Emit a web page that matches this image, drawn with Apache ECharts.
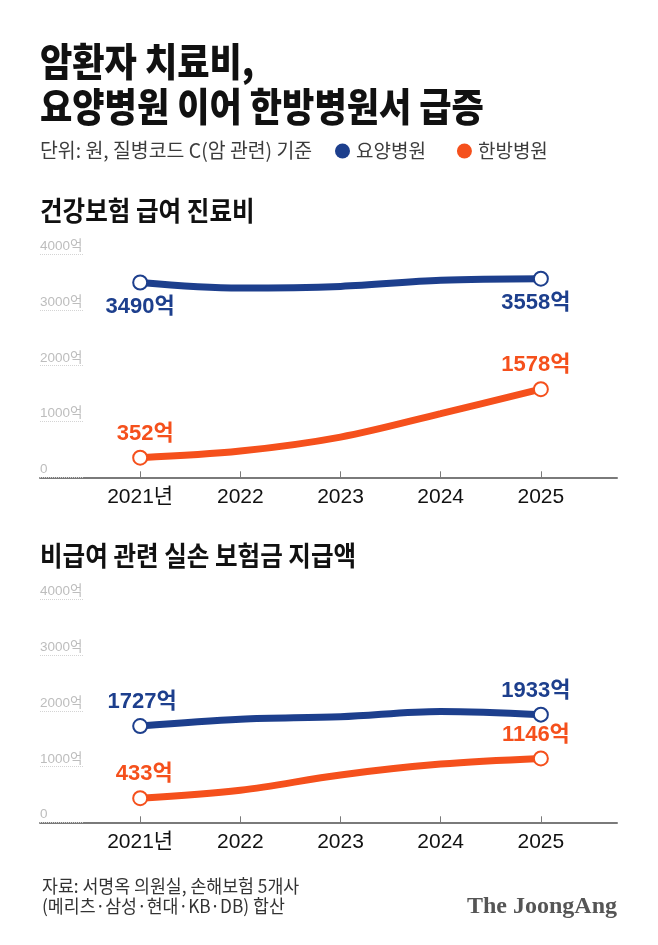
<!DOCTYPE html>
<html>
<head>
<meta charset="utf-8">
<script src="https://cdn.jsdelivr.net/npm/echarts@6/dist/echarts.min.js"></script>
<style>
  html, body { margin: 0; padding: 0; background: #fff; }
  #chart { width: 658px; height: 945px; }
</style>
</head>
<body>
<div id="chart"></div>
<script>
// data
var years = [2021, 2022, 2023, 2024, 2025];
var yearLabels = ["2021년", "2022", "2023", "2024", "2025"];
var seriesNames = ["요양병원", "한방병원"];
// 건강보험 급여 진료비 (억 원)
var insuredNursing = [3490, 3390, 3420, 3530, 3558];
var insuredKorean = [352, 470, 720, 1140, 1578];
// 비급여 관련 실손 보험금 지급액 (억 원)
var privateNursing = [1727, 1850, 1895, 1990, 1933];
var privateKorean = [433, 575, 850, 1045, 1146];

var BLUE = "#1d3f8d";
var ORANGE = "#f5501c";
var NUM = "'Liberation Sans', 'Noto Sans CJK KR', sans-serif";
var KR = "'Noto Sans CJK KR', sans-serif";

var myChart = echarts.init(document.getElementById("chart"));

// only the first and last points get a marker and a label
function makeData(values, labelPos, firstDx) {
  return values.map(function (v, i) {
    if (i === 0 || i === values.length - 1) {
      return {
        value: [years[i], v],
        label: { show: true, position: labelPos, offset: [i === 0 ? firstDx : -5, 0] }
      };
    }
    return { value: [years[i], v], symbol: "none" };
  });
}

function makeSeries(name, color, values, gridIdx, labelPos, firstDx) {
  return {
    name: name,
    type: "line",
    xAxisIndex: gridIdx,
    yAxisIndex: gridIdx,
    smooth: 0.35,
    color: color,
    symbol: "circle",
    symbolSize: 14,
    lineStyle: { color: color, width: 7 },
    itemStyle: { color: "#fff", borderColor: color, borderWidth: 2 },
    label: {
      show: false,
      distance: 5,
      color: color,
      fontFamily: NUM,
      fontWeight: "bold",
      fontSize: 22,
      formatter: function (p) { return p.value[1] + "억"; }
    },
    emphasis: { disabled: true },
    data: makeData(values, labelPos, firstDx)
  };
}

function makeXAxis(gridIdx) {
  return {
    gridIndex: gridIdx,
    type: "value",
    min: 2020,
    max: 2025.76,
    axisLine: { show: true, lineStyle: { color: "#7a7a7a", width: 2 } },
    axisTick: {
      show: true, inside: true, length: 6, customValues: years,
      lineStyle: { color: "#7a7a7a", width: 1 }
    },
    axisLabel: {
      customValues: years,
      margin: 9,
      color: "#111",
      fontSize: 21,
      fontFamily: NUM,
      formatter: function (v) { return yearLabels[years.indexOf(v)]; }
    },
    splitLine: { show: false }
  };
}

function makeYAxis(gridIdx) {
  return {
    gridIndex: gridIdx,
    type: "value",
    min: 0,
    max: 4000,
    interval: 1000,
    axisLine: { show: false },
    axisTick: {
      show: true, inside: true, length: 43,
      lineStyle: { color: "#d4d4d4", type: "dotted", width: 1 }
    },
    axisLabel: {
      inside: true,
      margin: 0,
      verticalAlign: "bottom",
      padding: [0, 0, 1, 0],
      color: "#bdbdbd",
      fontSize: 13.5,
      fontFamily: NUM,
      formatter: function (v) { return v === 0 ? "0" : v + "억"; }
    },
    splitLine: { show: false }
  };
}

function txt(text, x, y, size, weight, fill, sx, family) {
  return {
    type: "text",
    x: x,
    y: y,
    scaleX: sx,
    silent: true,
    style: {
      text: text,
      fill: fill,
      font: weight + " " + size + "px " + (family || KR),
      textVerticalAlign: "middle"
    }
  };
}

var opt = {
  animation: false,
  backgroundColor: "#fff",
  grid: [
    { left: 40, right: 41, top: 254, height: 223.3 },
    { left: 40, right: 41, top: 599.5, height: 222.8 }
  ],
  legend: {
    left: 335,
    top: 141.5,
    padding: 0,
    icon: "circle",
    itemWidth: 15,
    itemHeight: 15,
    itemGap: 31,
    selectedMode: false,
    textStyle: { fontSize: 19, color: "#3c3c3c", fontFamily: KR, padding: [0, 0, 0, 1] },
    data: [
      { name: seriesNames[0], itemStyle: { color: BLUE, borderWidth: 0 } },
      { name: seriesNames[1], itemStyle: { color: ORANGE, borderWidth: 0 } }
    ]
  },
  xAxis: [makeXAxis(0), makeXAxis(1)],
  yAxis: [makeYAxis(0), makeYAxis(1)],
  series: [
    makeSeries(seriesNames[0], BLUE, insuredNursing, 0, "bottom", 0),
    makeSeries(seriesNames[1], ORANGE, insuredKorean, 0, "top", 5),
    makeSeries(seriesNames[0], BLUE, privateNursing, 1, "top", 2),
    makeSeries(seriesNames[1], ORANGE, privateKorean, 1, "top", 4)
  ],
  graphic: [
    txt("암환자 치료비,", 40, 61, 39, "900", "#111", 0.9),
    txt("요양병원 이어 한방병원서 급증", 40, 106, 39, "900", "#111", 0.9),
    txt("단위: 원, 질병코드 C(암 관련) 기준", 40, 150, 20, "normal", "#3c3c3c", 0.97),
    txt("건강보험 급여 진료비", 40, 211, 27, "bold", "#111", 0.91),
    txt("비급여 관련 실손 보험금 지급액", 40, 555.5, 27, "bold", "#111", 0.91),
    txt("자료: 서명옥 의원실, 손해보험 5개사", 42, 886, 18, "normal", "#333", 0.96),
    txt("(메리츠·삼성·현대·KB·DB) 합산", 42, 906, 18, "normal", "#333", 0.96),
    {
      type: "text",
      x: 617,
      y: 907,
      silent: true,
      style: {
        text: "The JoongAng",
        fill: "#555",
        font: "bold 24px 'Liberation Serif', serif",
        textAlign: "right",
        textVerticalAlign: "middle"
      }
    }
  ]
};

myChart.setOption(opt);
</script>
</body>
</html>
